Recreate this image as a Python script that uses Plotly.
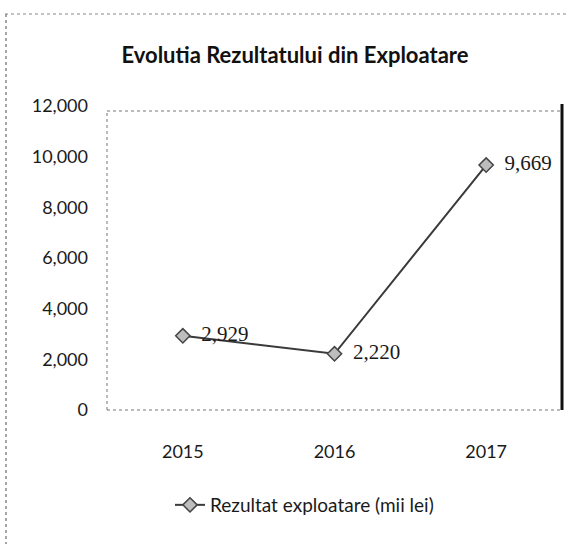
import plotly.graph_objects as go

years = ["2015", "2016", "2017"]
rezultat = [2929, 2220, 9669]
y_ticks = [0, 2000, 4000, 6000, 8000, 10000, 12000]
y_tick_labels = ["0", "2,000", "4,000", "6,000", "8,000", "10,000", "12,000"]
series_name = "Rezultat exploatare (mii lei)"
title_text = "Evolutia Rezultatului din Exploatare"

W, H = 569, 544
L, R, T, B = 107, 7, 106, 134
PW, PH = W - L - R, H - T - B

def px_x(px):
    return (px - L) / PW

def px_y(py):
    return (H - B - py) / PH

fig = go.Figure()
fig.add_trace(go.Scatter(
    x=years, y=rezultat, name=series_name,
    mode="lines+markers+text",
    line=dict(color="#3a3a3a", width=2),
    marker=dict(symbol="diamond", size=11, color="#bdbdbd",
                line=dict(color="#444444", width=1.5)),
    texttemplate="  %{y:,}", textposition="middle right",
    textfont=dict(family="Liberation Serif", size=21, color="#1a1a1a"),
    cliponaxis=False,
))

shapes = []
# plot-area frame
shapes.append(dict(type="line", xref="paper", yref="paper", x0=0, x1=1,
                   y0=px_y(111), y1=px_y(111),
                   line=dict(color="#777777", width=1, dash="dot")))
shapes.append(dict(type="line", xref="paper", yref="paper", x0=0, x1=1, y0=0, y1=0,
                   line=dict(color="#777777", width=1, dash="dot")))
shapes.append(dict(type="line", xref="paper", yref="paper", x0=0, x1=0,
                   y0=0, y1=px_y(111),
                   line=dict(color="#777777", width=1, dash="dot")))
shapes.append(dict(type="line", xref="paper", yref="paper", x0=1, x1=1,
                   y0=0, y1=px_y(104),
                   line=dict(color="#111111", width=3)))
# outer chart frame (scan edges)
shapes.append(dict(type="line", xref="paper", yref="paper",
                   x0=px_x(5), x1=px_x(569), y0=px_y(14), y1=px_y(14),
                   line=dict(color="#888888", width=1, dash="dot")))
shapes.append(dict(type="line", xref="paper", yref="paper",
                   x0=px_x(6), x1=px_x(6), y0=px_y(14), y1=px_y(544),
                   line=dict(color="#888888", width=1.5, dash="dot")))

fig.update_layout(
    width=W, height=H,
    margin=dict(l=L, r=R, t=T, b=B, autoexpand=False),
    paper_bgcolor="white", plot_bgcolor="white",
    title=dict(text="<b>" + title_text + "</b>", x=295 / W, xanchor="center",
               y=1 - 55 / H, yanchor="middle",
               font=dict(family="Lato", size=22, color="#111111")),
    xaxis=dict(range=[-0.5, 2.5], showgrid=False, zeroline=False, showline=False, ticks="",
               tickfont=dict(family="Lato", size=18, color="#1a1a1a"),
               ticklabelstandoff=29, automargin=False),
    yaxis=dict(range=[0, 12000], tickvals=y_ticks, ticktext=y_tick_labels,
               showgrid=False, zeroline=False, showline=False, ticks="",
               tickfont=dict(family="Lato", size=18, color="#1a1a1a"),
               ticklabelstandoff=18, automargin=False),
    showlegend=True,
    legend=dict(orientation="h", xref="container", yref="container",
                x=170 / W, xanchor="left", y=1 - 505 / H, yanchor="middle",
                font=dict(family="Lato", size=19, color="#1a1a1a"),
                bgcolor="rgba(0,0,0,0)"),
    shapes=shapes,
)

fig.write_html("out.html", config={"displayModeBar": False},
               post_script="document.body.style.margin='0';")
